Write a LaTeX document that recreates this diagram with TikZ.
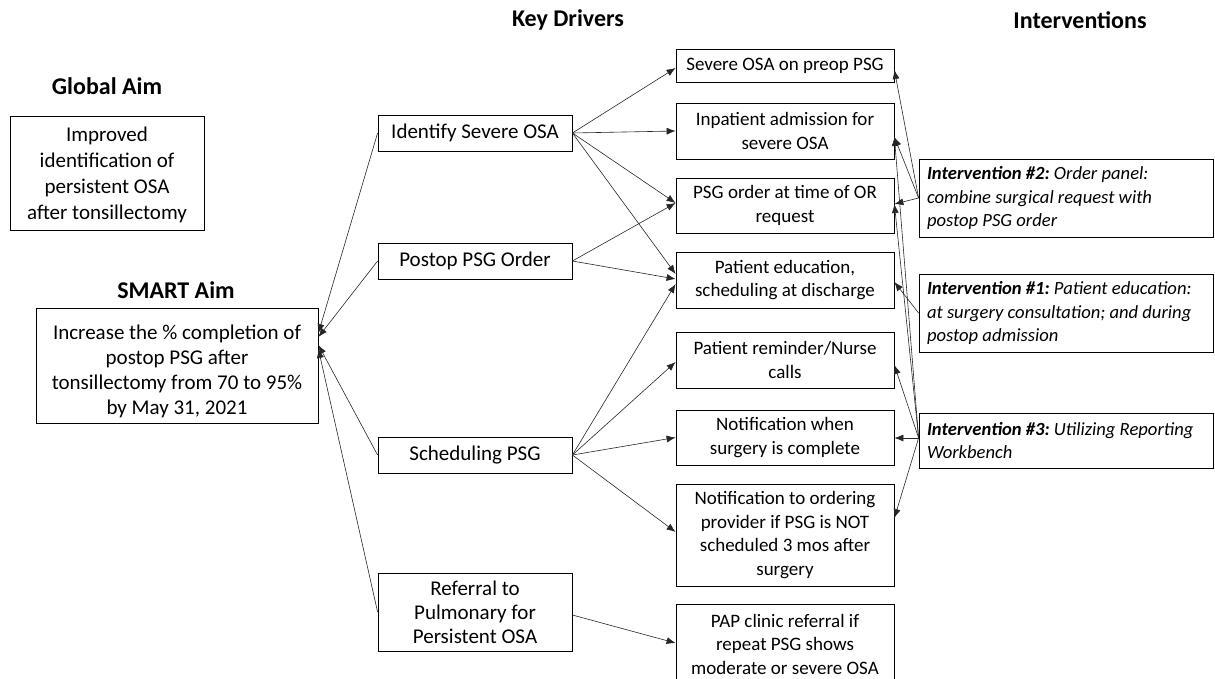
\documentclass[tikz,border=0pt]{standalone}
\usepackage{fontspec}
\setmainfont{Carlito}
\usetikzlibrary{arrows.meta}
\tikzset{
  box/.style={draw=black, line width=0.8pt, inner sep=0pt, align=flush center},
  kd/.style={box, minimum width=194pt, text width=188pt, font=\fontsize{21}{24}\selectfont},
  mid/.style={box, minimum width=218pt, text width=212pt, font=\fontsize{19}{23.5}\selectfont},
  intv/.style={box, minimum width=294pt, text width=278pt, align=flush left, font=\fontsize{18.6}{23.5}\selectfont\itshape\frenchspacing},
  aim/.style={box, font=\fontsize{21}{26}\selectfont},
  hdr/.style={font=\fontsize{24}{28}\selectfont\bfseries, inner sep=0pt},
  conn/.style={draw=black!85, line width=0.6pt, -{Latex[length=9pt,width=7pt]}}
}
\begin{document}
\begin{tikzpicture}[x=1pt,y=-1pt]
\useasboundingbox (0,0) rectangle (1215,678);
\clip (0,0) rectangle (1215,678);
% headers
\node[hdr] (hg) at (107,86) {Global Aim};
\node[hdr] (hs) at (176,290) {SMART Aim};
\node[hdr] (hk) at (568,20) {Key Drivers};
\node[hdr] (hi) at (1080,20) {Interventions};
% aims
\node[aim, minimum width=194pt, minimum height=114pt] (glob) at (107,173) {};
\node[aim, draw=none, text width=188pt] (globtxt) at (107,175)
  {Improved\\identification of\\persistent OSA\\after tonsillectomy};
\node[aim, minimum width=282pt, minimum height=115pt] (smart) at (177,365.5) {};
\node[aim, draw=none, text width=276pt, font=\fontsize{21}{25}\selectfont] (smarttxt) at (177,371)
  {Increase the \% completion of\\postop PSG after\\tonsillectomy from 70 to 95\%\\by May 31, 2021};
% key drivers
\node[kd, minimum height=36pt] (id) at (475,133) {Identify Severe OSA};
\node[kd, minimum height=36pt] (post) at (475,261) {Postop PSG Order};
\node[kd, minimum height=36pt] (sched) at (475,455) {Scheduling PSG};
\node[kd, minimum height=78pt] (ref) at (475,612) {Referral to\\Pulmonary for\\Persistent OSA};
% middle column
\node[mid, minimum height=33pt] (sev) at (785,65.5) {Severe OSA on preop PSG};
\node[mid, minimum height=56pt] (inp) at (785,131) {Inpatient admission for\\severe OSA};
\node[mid, minimum height=55pt] (psg) at (785,205.5) {PSG order at time of OR\\request};
\node[mid, minimum height=56pt] (edu) at (785,280) {Patient education,\\scheduling at discharge};
\node[mid, minimum height=56pt] (rem) at (785,360) {Patient reminder/Nurse\\calls};
\node[mid, minimum height=55pt] (notw) at (785,437.5) {Notification when\\surgery is complete};
\node[mid, minimum height=102pt] (noto) at (785,535) {Notification to ordering\\provider if PSG is NOT\\scheduled 3 mos after\\surgery};
\node[mid, minimum height=80pt] (pap) at (785,644) {PAP clinic referral if\\repeat PSG shows\\moderate or severe OSA};
% interventions
\node[intv, minimum height=78pt] (int2) at (1066,198)
  {\textbf{Intervention \#2:} Order panel:\\combine surgical request with\\postop PSG order};
\node[intv, minimum height=78pt] (int1) at (1066,313)
  {\textbf{Intervention \#1:} Patient education:\\at surgery consultation; and during\\postop admission};
\node[intv, minimum height=55pt] (int3) at (1066,440.5)
  {\textbf{Intervention \#3:} Utilizing Reporting\\Workbench};
% key drivers -> SMART aim
\draw[conn] (id.west) -- ([yshift=32.5pt]smart.east);
\draw[conn] (post.west) -- ([yshift=28.5pt]smart.east);
\draw[conn] (sched.west) -- ([yshift=20.5pt]smart.east);
\draw[conn] (ref.west) -- ([yshift=16.5pt]smart.east);
% key drivers -> middle
\draw[conn] (id.east) -- ([yshift=-2.5pt]sev.west);
\draw[conn] (id.east) -- (inp.west);
\draw[conn] (id.east) -- ([yshift=2.5pt]psg.west);
\draw[conn] (id.east) -- ([yshift=6pt]edu.west);
\draw[conn] (post.east) -- ([yshift=2.5pt]psg.west);
\draw[conn] (post.east) -- ([yshift=1pt]edu.west);
\draw[conn] (sched.east) -- ([yshift=-4pt]edu.west);
\draw[conn] (sched.east) -- ([yshift=-2pt]rem.west);
\draw[conn] (sched.east) -- (notw.west);
\draw[conn] (sched.east) -- ([yshift=3pt]noto.west);
\draw[conn] ([yshift=-3pt]ref.east) -- ([yshift=1pt]pap.west);
% interventions -> middle
\draw[conn] (int2.west) -- ([yshift=-4.5pt]sev.east);
\draw[conn] (int2.west) -- ([yshift=-6pt]inp.east);
\draw[conn] (int2.west) -- ([yshift=1.5pt]psg.east);
\draw[conn] (int1.west) -- ([yshift=-2pt]edu.east);
\draw[conn] ([yshift=2.5pt]int3.west) -- ([yshift=-6pt]inp.east);
\draw[conn] ([yshift=2.5pt]int3.west) -- ([yshift=1.5pt]psg.east);
\draw[conn] ([yshift=2.5pt]int3.west) -- ([yshift=-5pt]rem.east);
\draw[conn] ([yshift=2.5pt]int3.west) -- ([yshift=-0.5pt]notw.east);
\draw[conn] ([yshift=2.5pt]int3.west) -- ([yshift=17pt]noto.east);
\end{tikzpicture}
\end{document}
